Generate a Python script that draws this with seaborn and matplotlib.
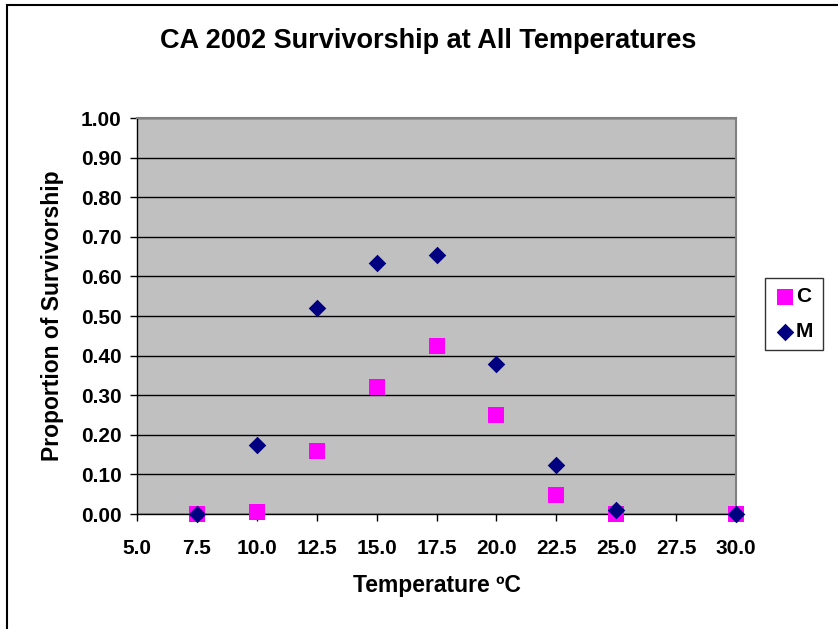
import numpy as np
import pandas as pd
import matplotlib
matplotlib.use("Agg")
import matplotlib.pyplot as plt
import seaborn as sns
from matplotlib.patches import Rectangle

# data
temps = [7.5, 10.0, 12.5, 15.0, 17.5, 20.0, 22.5, 25.0, 30.0]
surv_c = [0.000, 0.005, 0.160, 0.320, 0.425, 0.250, 0.047, 0.000, 0.000]
surv_m = [0.000, 0.175, 0.520, 0.633, 0.653, 0.378, 0.123, 0.010, 0.000]

x_ticks = np.arange(5.0, 30.01, 2.5)
y_ticks = np.arange(0.0, 1.001, 0.1)

df_c = pd.DataFrame({"Temp": temps, "Surv": surv_c, "Series": "C"})
df_m = pd.DataFrame({"Temp": temps, "Surv": surv_m, "Series": "M"})

sns.set_style("white")
plt.rcParams["font.family"] = ["Liberation Sans", "DejaVu Sans"]
plt.rcParams["font.weight"] = "bold"
plt.rcParams["text.color"] = "black"
plt.rcParams["axes.labelcolor"] = "black"
plt.rcParams["xtick.color"] = "black"
plt.rcParams["ytick.color"] = "black"

fig = plt.figure(figsize=(8.38, 6.29), dpi=100)
ax = fig.add_axes([0.1635, 0.1828, 0.7148, 0.6296])
ax.set_facecolor("#c0c0c0")

# outer chart border (only left/top visible in the crop)
fig.patches.append(Rectangle((7 / 838, -0.1), 1.1, 1 - 5 / 629 + 0.1,
                             transform=fig.transFigure, fill=False,
                             edgecolor="black", linewidth=1.5, zorder=0))

sns.scatterplot(data=df_c, x="Temp", y="Surv", marker="s", s=125,
                color="#ff00ff", linewidth=0, label="C", ax=ax,
                zorder=3, clip_on=False)
sns.scatterplot(data=df_m, x="Temp", y="Surv", marker="D", s=80,
                color="#000080", linewidth=0, label="M", ax=ax,
                zorder=4, clip_on=False)

ax.set_xlim(5, 30)
ax.set_ylim(0, 1)
ax.set_xticks(x_ticks)
ax.set_yticks(y_ticks)
ax.set_xticklabels([f"{v:.1f}" for v in x_ticks], fontsize=15, fontweight="bold")
ax.set_yticklabels([f"{v:.2f}" for v in y_ticks], fontsize=15, fontweight="bold")
ax.tick_params(axis="both", direction="out", length=5, width=1, color="black",
               bottom=True, left=True)
ax.tick_params(axis="x", pad=13)
ax.tick_params(axis="y", pad=6)

ax.grid(axis="y", color="black", linewidth=1)
ax.set_axisbelow(True)
for side in ["top", "right"]:
    ax.spines[side].set_color("#808080")
    ax.spines[side].set_linewidth(1.5)
for side in ["left", "bottom"]:
    ax.spines[side].set_color("black")
    ax.spines[side].set_linewidth(1)

fig.text(428 / 838, 1 - 41 / 629, "CA 2002 Survivorship at All Temperatures",
         fontsize=19.5, fontweight="bold", ha="center", va="center")

ax.set_xlabel("Temperature ºC", fontsize=16.5, fontweight="bold")
ax.set_ylabel("Proportion of Survivorship", fontsize=16.5, fontweight="bold")
ax.xaxis.label.set_va("center")
ax.yaxis.label.set_va("center")
ax.xaxis.set_label_coords((437 - 137) / 599, (514 - 585) / 396)
ax.yaxis.set_label_coords((52 - 137) / 599, (514 - 316) / 396)

leg = ax.legend(loc="upper left", bbox_to_anchor=(1.048, 0.596), borderaxespad=0,
                frameon=True, fancybox=False, handletextpad=0.05,
                handlelength=1.0, borderpad=0.45, labelspacing=0.75,
                prop={"size": 15, "weight": "bold"})
leg.get_frame().set_edgecolor("black")
leg.get_frame().set_linewidth(1)

fig.savefig("out.png", dpi=100)
